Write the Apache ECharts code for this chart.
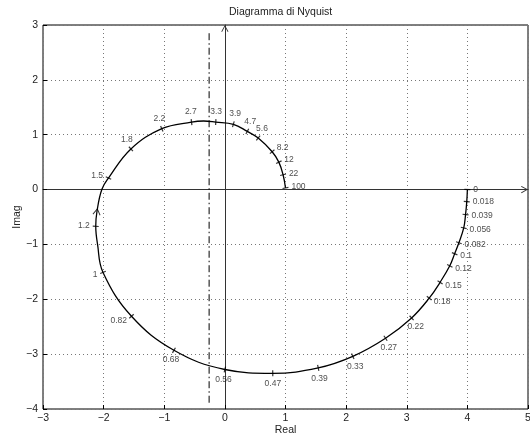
<!DOCTYPE html>
<html>
<head>
<meta charset="utf-8">
<script src="https://cdn.jsdelivr.net/npm/echarts@6/dist/echarts.min.js"></script>
<style>
  html, body { margin: 0; padding: 0; background: #fff; }
  #chart { width: 530px; height: 436px; }
</style>
</head>
<body>
<div id="chart"></div>
<script>
// pulsazioni etichettate lungo il diagramma
const tickFreqs = ['0', '0.018', '0.039', '0.056', '0.082', '0.1', '0.12', '0.15', '0.18', '0.22',
  '0.27', '0.33', '0.39', '0.47', '0.56', '0.68', '0.82', '1', '1.2', '1.5', '1.8', '2.2', '2.7',
  '3.3', '3.9', '4.7', '5.6', '8.2', '12', '22', '100'];
const tickRe = [4, 3.99, 3.97, 3.94, 3.86, 3.79, 3.71, 3.55, 3.37, 3.08, 2.65, 2.11, 1.54, 0.79,
  0, -0.84, -1.54, -2.01, -2.13, -1.92, -1.55, -1.04, -0.55, -0.15, 0.14, 0.37, 0.55, 0.78, 0.89,
  0.96, 1.0];
const tickIm = [0, -0.22, -0.456, -0.70, -0.97, -1.17, -1.39, -1.69, -1.98, -2.34, -2.71, -3.04,
  -3.25, -3.35, -3.28, -2.93, -2.31, -1.51, -0.67, 0.21, 0.74, 1.11, 1.23, 1.23, 1.19, 1.06, 0.94,
  0.69, 0.50, 0.27, 0.03];

// tracciato completo (tacche + qualche punto intermedio)
const curveRe = [4, 3.99, 3.97, 3.94, 3.86, 3.79, 3.71, 3.55, 3.37, 3.08, 2.65, 2.11, 1.54, 0.79,
  0, -0.84, -1.54, -2.01, -2.10, -2.13, -2.11, -2.03, -1.92, -1.55, -1.04, -0.55, -0.35, -0.15,
  0.14, 0.37, 0.55, 0.78, 0.89, 0.96, 1.0];
const curveIm = [0, -0.22, -0.456, -0.70, -0.97, -1.17, -1.39, -1.69, -1.98, -2.34, -2.71, -3.04,
  -3.25, -3.35, -3.28, -2.93, -2.31, -1.51, -1.0, -0.67, -0.40, 0, 0.21, 0.74, 1.11, 1.23, 1.25,
  1.23, 1.19, 1.06, 0.94, 0.69, 0.50, 0.27, 0.03];

// asintoto verticale e freccia di verso
const asymRe = [-0.26, -0.26];
const asymIm = [2.85, -3.9];
const arrowPoint = [-2.11, -0.40];

const xTicks = [-3, -2, -1, 0, 1, 2, 3, 4, 5];
const yTicks = [-4, -3, -2, -1, 0, 1, 2, 3];

const font = 'Liberation Sans';
const chevron = 'path://M0,0 L5,9 L4,9.8 L0,2.4 L-4,9.8 L-5,9 Z';
const gridBox = { left: 43, right: 2, top: 25, bottom: 27 };
const sx = (530 - gridBox.left - gridBox.right) / (xTicks[xTicks.length - 1] - xTicks[0]);
const sy = (436 - gridBox.top - gridBox.bottom) / (yTicks[yTicks.length - 1] - yTicks[0]);

const fmt = v => (v < 0 ? '\u2212' + (-v) : String(v));

// tacche perpendicolari ed etichette spostate lungo la normale esterna
const tickData = tickFreqs.map((f, i) => {
  const a = Math.max(i - 1, 0);
  const b = Math.min(i + 1, tickFreqs.length - 1);
  let tx = (tickRe[b] - tickRe[a]) * sx;
  let ty = (tickIm[b] - tickIm[a]) * sy;
  const len = Math.hypot(tx, ty) || 1;
  tx /= len; ty /= len;
  const nx = -ty, ny = tx;
  const r = 6;
  return {
    value: [tickRe[i], tickIm[i]],
    symbolRotate: Math.atan2(ty, tx) * 180 / Math.PI,
    label: {
      show: true,
      formatter: f,
      position: 'inside',
      align: nx > 0.7 ? 'left' : (nx < -0.7 ? 'right' : 'center'),
      verticalAlign: ny > 0.7 ? 'bottom' : (ny < -0.7 ? 'top' : 'middle'),
      offset: [nx * r, -ny * r]
    }
  };
});

const chart = echarts.init(document.getElementById('chart'));
chart.setOption({
  animation: false,
  backgroundColor: '#fff',
  title: {
    text: 'Diagramma di Nyquist',
    left: 229,
    top: 7,
    padding: 0,
    textStyle: { fontFamily: font, fontSize: 10.5, fontWeight: 'normal', color: '#222' }
  },
  grid: {
    left: gridBox.left, right: gridBox.right, top: gridBox.top, bottom: gridBox.bottom,
    show: true, borderColor: '#000', borderWidth: 1, backgroundColor: 'transparent',
    outerBoundsMode: 'none'
  },
  xAxis: [
    {
      type: 'value', min: xTicks[0], max: xTicks[xTicks.length - 1], interval: 1,
      position: 'bottom',
      name: 'Real', nameLocation: 'middle', nameGap: 16, nameMoveOverlap: false,
      nameTextStyle: { fontFamily: font, fontSize: 10.5, color: '#222' },
      axisLine: { show: false, onZero: false },
      axisTick: { show: true, inside: true, length: 4, lineStyle: { color: '#000' } },
      axisLabel: { fontFamily: font, fontSize: 10.5, color: '#222', margin: 4, formatter: fmt },
      splitLine: { show: true, lineStyle: { color: '#777', type: [1, 3], width: 1 } }
    },
    {
      type: 'value', min: xTicks[0], max: xTicks[xTicks.length - 1], interval: 1,
      position: 'top',
      axisLine: {
        show: true, onZero: true, onZeroAxisIndex: 0,
        symbol: ['none', chevron], symbolSize: [8, 7], symbolOffset: [0, -3.5],
        lineStyle: { color: '#333', width: 1 }
      },
      axisTick: { show: false }, axisLabel: { show: false }, splitLine: { show: false }
    }
  ],
  yAxis: [
    {
      type: 'value', min: yTicks[0], max: yTicks[yTicks.length - 1], interval: 1,
      position: 'left',
      name: 'Imag', nameLocation: 'middle', nameGap: 20, nameMoveOverlap: false,
      nameTextStyle: { fontFamily: font, fontSize: 10.5, color: '#222' },
      axisLine: { show: false, onZero: false },
      axisTick: { show: true, inside: true, length: 4, lineStyle: { color: '#000' } },
      axisLabel: { fontFamily: font, fontSize: 10.5, color: '#222', margin: 5, formatter: fmt },
      splitLine: { show: true, lineStyle: { color: '#777', type: [1, 3], width: 1 } }
    },
    {
      type: 'value', min: yTicks[0], max: yTicks[yTicks.length - 1], interval: 1,
      position: 'right',
      axisLine: {
        show: true, onZero: true, onZeroAxisIndex: 0,
        symbol: ['none', chevron], symbolSize: [8, 7], symbolOffset: [0, -3.5],
        lineStyle: { color: '#333', width: 1 }
      },
      axisTick: { show: false }, axisLabel: { show: false }, splitLine: { show: false }
    }
  ],
  series: [
    {
      name: 'asintoto',
      type: 'line',
      data: asymRe.map((x, i) => [x, asymIm[i]]),
      showSymbol: false,
      lineStyle: { color: '#000', width: 1, type: [7, 3, 1.5, 3] },
      z: 2
    },
    {
      name: 'Nyquist',
      type: 'line',
      data: curveRe.map((x, i) => [x, curveIm[i]]),
      showSymbol: false,
      smooth: 0.4,
      lineStyle: { color: '#000', width: 1.3 },
      z: 3
    },
    {
      name: 'tacche',
      type: 'scatter',
      data: tickData,
      symbol: 'rect',
      symbolSize: [1.2, 6],
      itemStyle: { color: '#000' },
      label: { fontFamily: font, fontSize: 8.5, color: '#222' },
      z: 4
    },
    {
      name: 'verso',
      type: 'scatter',
      data: [arrowPoint],
      symbol: chevron,
      symbolSize: [8, 7],
      symbolRotate: -8,
      itemStyle: { color: '#000' },
      z: 5
    }
  ]
});
</script>
</body>
</html>
